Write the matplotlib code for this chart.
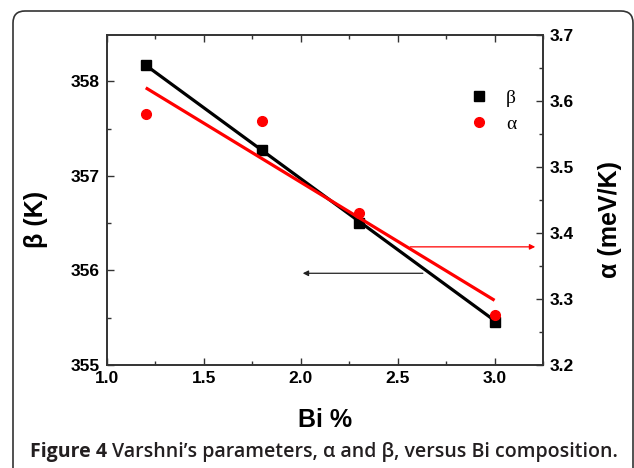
import numpy as np
import matplotlib
matplotlib.use("Agg")
import matplotlib.pyplot as plt
from matplotlib.patches import FancyBboxPatch
from matplotlib.ticker import MultipleLocator, FormatStrFormatter

# ---------------------------------------------------------------------------
# DATA
# ---------------------------------------------------------------------------
bi_pct = [1.2, 1.8, 2.3, 3.0]
beta_K = [358.17, 357.27, 356.50, 355.45]       # left axis
alpha_meV = [3.581, 3.570, 3.430, 3.276]        # right axis

# linear-fit end points as drawn
fit_x = [1.2, 3.0]
beta_fit = [358.17, 355.47]
alpha_fit = [3.620, 3.298]

# axis-pointer arrows (tail -> head)
beta_arrow_x = [2.63, 2.01]
beta_arrow_y = 355.97
alpha_arrow_x = [2.565, 3.21]
alpha_arrow_y = 3.379

plt.rcParams["font.family"] = "Liberation Sans"
plt.rcParams["font.weight"] = "bold"
plt.rcParams["font.size"] = 12.5

W, H = 634, 468
fig = plt.figure(figsize=(W / 100, H / 100), dpi=100)
ax = fig.add_axes([107 / W, 1 - 365 / H, (543 - 107) / W, 330 / H])
ax2 = ax.twinx()

lab_font = {"family": "Liberation Sans", "weight": "bold", "size": 18}

# fits and points
ax.plot(fit_x, beta_fit, color="black", lw=2.3, solid_capstyle="butt", zorder=3)
ax2.plot(fit_x, alpha_fit, color="#ff0000", lw=2.3, solid_capstyle="butt", zorder=3)
ax.plot(bi_pct, beta_K, "s", color="black", ms=6.5, zorder=4, label="β")
ax2.plot(bi_pct, alpha_meV, "o", color="#ff0000", ms=7, zorder=4, label="α")

ax.annotate("", xy=(beta_arrow_x[1], beta_arrow_y), xytext=(beta_arrow_x[0], beta_arrow_y),
            arrowprops=dict(arrowstyle="-|>", color="#222222", lw=0.9,
                            mutation_scale=8, shrinkA=0, shrinkB=0))
ax2.annotate("", xy=(alpha_arrow_x[1], alpha_arrow_y), xytext=(alpha_arrow_x[0], alpha_arrow_y),
             arrowprops=dict(arrowstyle="-|>", color="#ff0000", lw=0.9,
                             mutation_scale=8, shrinkA=0, shrinkB=0))

ax.set_xlim(1.0, 3.25)
ax.set_ylim(355, 358.49)
ax2.set_ylim(3.2, 3.7)

ax.xaxis.set_major_locator(MultipleLocator(0.5))
ax.xaxis.set_minor_locator(MultipleLocator(0.25))
ax.yaxis.set_major_locator(MultipleLocator(1))
ax.yaxis.set_minor_locator(MultipleLocator(0.5))
ax2.yaxis.set_major_locator(MultipleLocator(0.1))
ax2.yaxis.set_minor_locator(MultipleLocator(0.05))
ax.xaxis.set_major_formatter(FormatStrFormatter("%.1f"))
ax2.yaxis.set_major_formatter(FormatStrFormatter("%.1f"))

for a in (ax, ax2):
    for s in a.spines.values():
        s.set_linewidth(1.2)
        s.set_color("#333333")
ax.tick_params(which="both", direction="in", top=True, right=False, color="#333333",
               width=1, labelsize=12.5)
ax.tick_params(which="major", length=5)
ax.tick_params(which="minor", length=3)
ax.tick_params(axis="x", pad=4)
ax.tick_params(axis="y", pad=5)
ax2.tick_params(which="both", direction="in", color="#333333", width=1, pad=5, labelsize=12.5)
ax2.tick_params(which="major", length=5)
ax2.tick_params(which="minor", length=3)

ax.set_xlabel("Bi %", fontdict=lab_font)
ax.set_ylabel("β (K)", fontdict=lab_font)
ax2.set_ylabel("α (meV/K)", fontdict=lab_font)
ax.xaxis.set_label_coords(0.5, -0.13)
ax.yaxis.set_label_coords(-0.135, 0.44)
ax2.yaxis.set_label_coords(1.125, 0.44)

h1, l1 = ax.get_legend_handles_labels()
h2, l2 = ax2.get_legend_handles_labels()
ax2.legend(h1 + h2, l1 + l2, loc="upper left", bbox_to_anchor=(0.812, 0.86),
           frameon=False, handlelength=1.0, handletextpad=0.9, labelspacing=0.45,
           borderaxespad=0, prop={"family": "Liberation Serif", "size": 14, "weight": "normal"})

# outer rounded frame
frame = FancyBboxPatch((0.13, -0.5), 6.20, 4.57 + 0.5,
                       boxstyle="round,pad=0,rounding_size=0.12",
                       transform=fig.dpi_scale_trans, fill=False,
                       ec="#333333", lw=1.2)
fig.add_artist(frame)

# caption
cap_color = "#231f20"
t1 = fig.text(30 / W, 1 - 457 / H, "Figure 4", fontsize=14, fontweight="bold",
              family="Open Sans", color=cap_color, va="baseline")
fig.canvas.draw()
bb = t1.get_window_extent()
fig.text((bb.x1 + 5) / W, 1 - 457 / H, "Varshni’s parameters, α and β, versus Bi composition.",
         fontsize=14, fontweight="semibold", family="Open Sans", color=cap_color, va="baseline")

fig.savefig("out.png", dpi=100)
